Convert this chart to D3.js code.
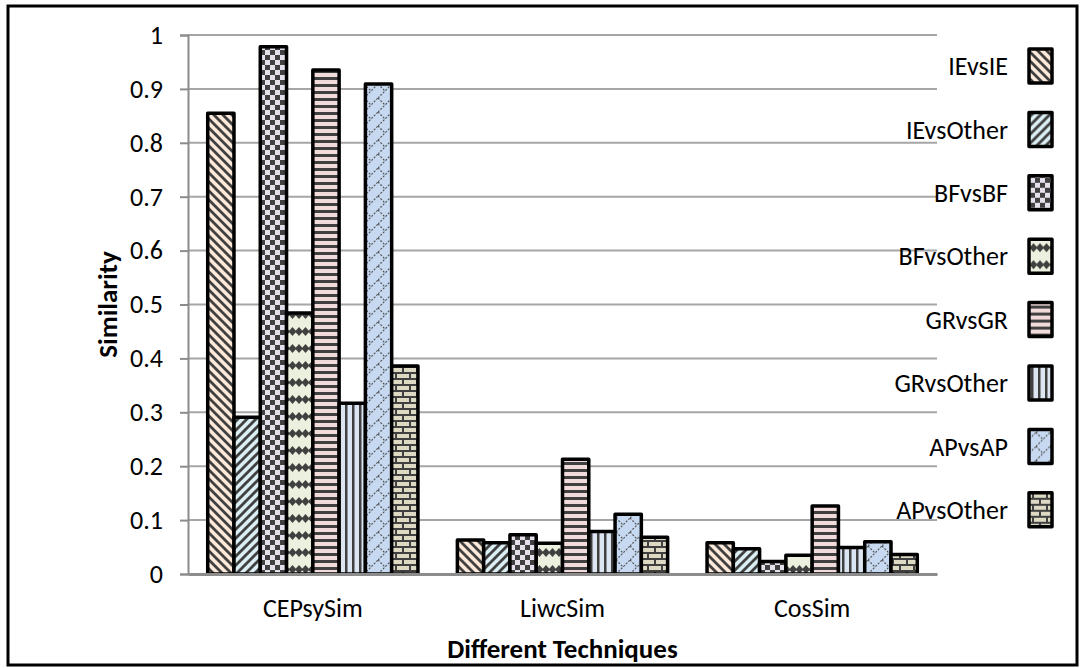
<!DOCTYPE html>
<html>
<head>
<meta charset="utf-8">
<script src="https://cdn.jsdelivr.net/npm/d3@7"></script>
<style>
  body { margin: 0; background: #fff; }
  svg text { font-family: Carlito, Calibri, Lato, sans-serif; fill: #000; }
</style>
</head>
<body>
<div id="chart"></div>
<script>
// Data
const categories = ["CEPsySim", "LiwcSim", "CosSim"];
const seriesNames = ["IEvsIE", "IEvsOther", "BFvsBF", "BFvsOther", "GRvsGR", "GRvsOther", "APvsAP", "APvsOther"];
const cepsyValues = [0.855, 0.291, 0.978, 0.484, 0.935, 0.317, 0.909, 0.386];
const liwcValues = [0.063, 0.058, 0.073, 0.057, 0.213, 0.079, 0.111, 0.068];
const cosValues = [0.058, 0.047, 0.023, 0.035, 0.126, 0.049, 0.060, 0.036];
const yTicks = [0, 0.1, 0.2, 0.3, 0.4, 0.5, 0.6, 0.7, 0.8, 0.9, 1];

const valuesByCategory = [cepsyValues, liwcValues, cosValues];
const data = [];
categories.forEach((c, i) => {
  seriesNames.forEach((s, j) => data.push({ cat: c, series: s, value: valuesByCategory[i][j] }));
});

const W = 1081, H = 668;
const plot = { left: 188, right: 937, top: 35, bottom: 574 };
const fontSize = 26;
const titleSize = 27;

const svg = d3.select("#chart").append("svg")
  .attr("width", W)
  .attr("height", H);

// Patterns, roughly like the Excel fills
const defs = svg.append("defs");
const dark = "#404040";

function pattern(id, w, h, bg) {
  const p = defs.append("pattern")
    .attr("id", id)
    .attr("patternUnits", "userSpaceOnUse")
    .attr("width", w)
    .attr("height", h);
  p.append("rect").attr("width", w).attr("height", h).attr("fill", bg);
  return p;
}

// wide downward diagonal
let p = pattern("p0", 9, 9, "#fde9d9");
p.append("path").attr("d", "M-2,-2 L11,11 M-2,7 L2,11 M7,-2 L11,2")
  .attr("stroke", dark).attr("stroke-width", 2.8);
// wide upward diagonal
p = pattern("p1", 9, 9, "#daeef3");
p.append("path").attr("d", "M-2,11 L11,-2 M-2,2 L2,-2 M7,11 L11,7")
  .attr("stroke", dark).attr("stroke-width", 2.8);
// large checkerboard
p = pattern("p2", 10, 10, "#e5e0ec");
p.append("rect").attr("x", 0).attr("y", 0).attr("width", 5).attr("height", 5).attr("fill", dark);
p.append("rect").attr("x", 5).attr("y", 5).attr("width", 5).attr("height", 5).attr("fill", dark);
// solid diamonds
p = pattern("p3", 13, 17, "#ebf1de");
p.append("path").attr("d", "M6.5,4 L10.5,8.5 L6.5,13 L2.5,8.5 Z").attr("fill", dark);
p.append("path").attr("d", "M0,4 L4,8.5 L0,13 Z M13,4 L9,8.5 L13,13 Z").attr("fill", dark);
// horizontal stripes
p = pattern("p4", 8, 7, "#f2dcdb");
p.append("rect").attr("x", 0).attr("y", 0).attr("width", 8).attr("height", 3).attr("fill", dark);
// vertical stripes
p = pattern("p5", 7, 8, "#dce6f2");
p.append("rect").attr("x", 2).attr("y", 0).attr("width", 2.5).attr("height", 8).attr("fill", dark);
// shingle / trellis
p = pattern("p6", 14, 14, "#c6d9f1");
p.append("path").attr("d", "M0,14 L14,0 M0,0 L7,7")
  .attr("stroke", "#555").attr("stroke-width", 1.2).attr("stroke-dasharray", "2,1.5").attr("fill", "none");
// horizontal brick
p = pattern("p7", 14, 12, "#ddd9c3");
p.append("path").attr("d", "M0,1 L14,1 M0,7 L14,7 M4,1 L4,7 M11,7 L11,13")
  .attr("stroke", dark).attr("stroke-width", 2).attr("fill", "none");

const fills = seriesNames.map((s, i) => "url(#p" + i + ")");
const color = d3.scaleOrdinal().domain(seriesNames).range(fills);

// Scales
const x0 = d3.scaleBand().domain(categories).range([plot.left, plot.right]).padding(0);
const x1 = d3.scaleBand().domain(seriesNames).range([0, x0.bandwidth()]).paddingInner(0).paddingOuter(0.75);
const y = d3.scaleLinear().domain([0, 1]).range([plot.bottom, plot.top]);

// Outer frame
svg.append("rect")
  .attr("x", 8).attr("y", 6)
  .attr("width", 1069).attr("height", 659)
  .attr("fill", "none").attr("stroke", "#000").attr("stroke-width", 3);

// Gridlines
svg.append("g")
  .selectAll("line")
  .data(yTicks.slice(1))
  .join("line")
    .attr("x1", plot.left).attr("x2", plot.right)
    .attr("y1", d => y(d)).attr("y2", d => y(d))
    .attr("stroke", "#a6a6a6").attr("stroke-width", 2);

// Y axis
const yAxis = svg.append("g")
  .attr("transform", "translate(" + plot.left + ",0)")
  .call(d3.axisLeft(y).tickValues(yTicks).tickSize(8).tickPadding(17).tickFormat(d3.format("")));
yAxis.select(".domain").attr("stroke", "#8c8c8c").attr("stroke-width", 2);
yAxis.selectAll(".tick line").attr("stroke", "#8c8c8c").attr("stroke-width", 2);
yAxis.selectAll(".tick text").attr("font-size", fontSize).style("font-family", "Carlito, Calibri, Lato, sans-serif");

// Bars
svg.append("g")
  .selectAll("rect")
  .data(data)
  .join("rect")
    .attr("x", d => x0(d.cat) + x1(d.series))
    .attr("y", d => y(d.value))
    .attr("width", x1.bandwidth())
    .attr("height", d => y(0) - y(d.value))
    .attr("fill", d => color(d.series))
    .attr("stroke", "#000")
    .attr("stroke-width", 3.5)
    .attr("stroke-linejoin", "round");

// X axis
const xAxis = svg.append("g")
  .attr("transform", "translate(0," + plot.bottom + ")")
  .call(d3.axisBottom(x0).tickSize(0).tickPadding(25));
xAxis.select(".domain").attr("stroke", "#8c8c8c").attr("stroke-width", 3);
xAxis.selectAll(".tick text").attr("font-size", fontSize).style("font-family", "Carlito, Calibri, Lato, sans-serif");

// Axis titles
svg.append("text")
  .attr("x", (plot.left + plot.right) / 2)
  .attr("y", 658)
  .attr("text-anchor", "middle")
  .attr("font-size", titleSize)
  .attr("font-weight", "bold")
  .text("Different Techniques");

svg.append("text")
  .attr("transform", "translate(117," + ((plot.top + plot.bottom) / 2) + ") rotate(-90)")
  .attr("text-anchor", "middle")
  .attr("font-size", titleSize)
  .attr("font-weight", "bold")
  .text("Similarity");

// Legend
const legend = svg.append("g")
  .selectAll("g")
  .data(seriesNames)
  .join("g")
    .attr("transform", (d, i) => "translate(0," + (66 + i * 63.4) + ")");

legend.append("text")
  .attr("x", 1008)
  .attr("dy", "0.35em")
  .attr("text-anchor", "end")
  .attr("font-size", fontSize)
  .text(d => d);

legend.append("rect")
  .attr("x", 1029).attr("y", -17)
  .attr("width", 23).attr("height", 34)
  .attr("fill", d => color(d))
  .attr("stroke", "#000").attr("stroke-width", 3.5)
  .attr("stroke-linejoin", "round");
</script>
</body>
</html>
